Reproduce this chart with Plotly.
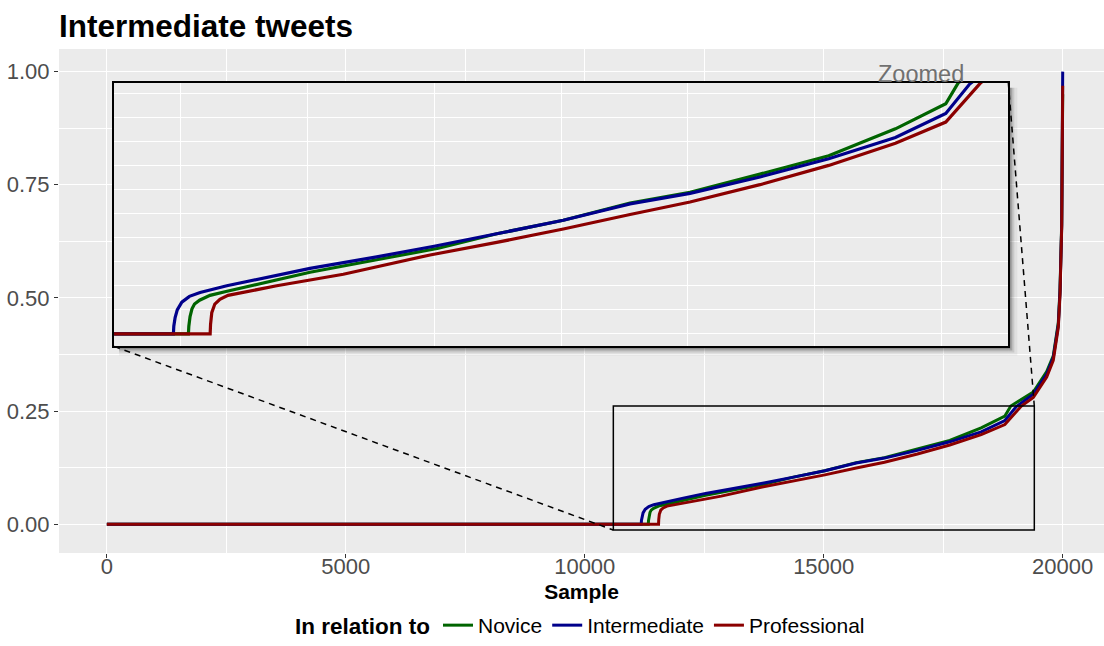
import plotly.graph_objects as go

# ---------------- data ----------------
chart_title = "Intermediate tweets"
x_title = "Sample"
legend_title = "In relation to"
zoom_label = "Zoomed"

series_names = ["Novice", "Intermediate", "Professional"]
series_colors = ["#006400", "#00008B", "#8B0000"]

novice_x = [1, 11330, 11334, 11346, 11365, 11390, 11440, 11543, 11700, 12036, 12528, 13185,
            13792, 14367, 15023, 15680, 16271, 16960, 17637, 18294, 18790, 18914, 19385,
            19665, 19803, 19908, 19944, 19979, 19995, 20000]
novice_y = [0, 0, 0.008, 0.018, 0.026, 0.031, 0.035, 0.040, 0.044, 0.052, 0.064, 0.077,
            0.089, 0.104, 0.118, 0.136, 0.147, 0.166, 0.185, 0.213, 0.239, 0.261, 0.292,
            0.337, 0.372, 0.445, 0.520, 0.665, 0.850, 0.950]

intermediate_x = [1, 11182, 11186, 11199, 11220, 11265, 11340, 11445, 11708, 12036, 12528,
                  13185, 13750, 14367, 15023, 15680, 16271, 16960, 17637, 18294, 18790,
                  19029, 19385, 19665, 19803, 19908, 19944, 19979, 19995, 20000]
intermediate_y = [0, 0, 0.008, 0.017, 0.025, 0.033, 0.039, 0.043, 0.050, 0.057, 0.068,
                  0.080, 0.091, 0.104, 0.118, 0.135, 0.146, 0.163, 0.182, 0.204, 0.229,
                  0.260, 0.287, 0.331, 0.368, 0.440, 0.515, 0.660, 0.850, 1.000]

professional_x = [1, 11544, 11548, 11560, 11590, 11640, 11720, 11871, 12200, 12856, 13710,
                  14367, 15023, 15680, 16271, 16960, 17637, 18294, 18790, 19135, 19385,
                  19665, 19803, 19908, 19944, 19979, 19995, 20000]
professional_y = [0, 0, 0.010, 0.022, 0.031, 0.036, 0.040, 0.043, 0.050, 0.062, 0.082,
                  0.095, 0.109, 0.124, 0.137, 0.155, 0.175, 0.198, 0.220, 0.261, 0.280,
                  0.325, 0.362, 0.435, 0.509, 0.656, 0.850, 0.969]

x_tick_vals = [0, 5000, 10000, 15000, 20000]
x_tick_text = ["0", "5000", "10000", "15000", "20000"]
y_tick_vals = [0, 0.25, 0.5, 0.75, 1.0]
y_tick_text = ["0.00", "0.25", "0.50", "0.75", "1.00"]

# zoom region (data coords) and where its magnified copy is placed (data coords)
zoom_from = [10598, 19406, -0.013, 0.2609]
zoom_to = [153, 18862, 0.3928, 0.9755]
main_x_range = [-1000, 20864]
main_y_range = [-0.0637, 1.05]

# ---------------- layout constants ----------------
W, H = 1104, 646
ML, MR, MT, MB = 59, 0, 49, 93
FONT = "Liberation Sans, Arial, sans-serif"
PANEL = "#EBEBEB"
TICK_COLOR = "#4D4D4D"

plot_w = W - ML - MR
plot_h = H - MT - MB
px_per_x = plot_w / (main_x_range[1] - main_x_range[0])
px_per_y = plot_h / (main_y_range[1] - main_y_range[0])

dom_x = [(zoom_to[0] - main_x_range[0]) / (main_x_range[1] - main_x_range[0]),
         (zoom_to[1] - main_x_range[0]) / (main_x_range[1] - main_x_range[0])]
dom_y = [(zoom_to[2] - main_y_range[0]) / (main_y_range[1] - main_y_range[0]),
         (zoom_to[3] - main_y_range[0]) / (main_y_range[1] - main_y_range[0])]
inset_w_px = (zoom_to[1] - zoom_to[0]) * px_per_x
inset_h_px = (zoom_to[3] - zoom_to[2]) * px_per_y

series = [(novice_x, novice_y), (intermediate_x, intermediate_y),
          (professional_x, professional_y)]

fig = go.Figure()
for (xs, ys), name, col in zip(series, series_names, series_colors):
    fig.add_trace(go.Scatter(x=xs, y=ys, mode="lines", name=name,
                             line=dict(color=col, width=3),
                             xaxis="x", yaxis="y", hoverinfo="skip"))
for (xs, ys), name, col in zip(series, series_names, series_colors):
    fig.add_trace(go.Scatter(x=xs, y=ys, mode="lines", name=name, showlegend=False,
                             line=dict(color=col, width=3.2),
                             xaxis="x2", yaxis="y2", hoverinfo="skip"))

shapes = []
# zoom box on the main panel
shapes.append(dict(type="rect", xref="x", yref="y",
                   x0=zoom_from[0], x1=zoom_from[1], y0=zoom_from[2], y1=zoom_from[3],
                   line=dict(color="black", width=1.5), layer="above"))
# dashed connectors
shapes.append(dict(type="line", xref="x", yref="y",
                   x0=zoom_to[0], y0=zoom_to[2], x1=zoom_from[0], y1=zoom_from[2],
                   line=dict(color="black", width=1.5, dash="6px,5px"), layer="above"))
shapes.append(dict(type="line", xref="x", yref="y",
                   x0=zoom_to[1], y0=zoom_to[3], x1=zoom_from[1], y1=zoom_from[3],
                   line=dict(color="black", width=1.5, dash="6px,5px"), layer="above"))
# drop shadow of the inset (right and bottom strips)
for w, op in [(2, 0.30), (4, 0.18), (6, 0.10), (9, 0.05)]:
    shapes.append(dict(type="rect", xref="x", yref="y",
                       xsizemode="pixel", xanchor=zoom_to[1], x0=0, x1=w,
                       ysizemode="pixel", yanchor=zoom_to[2], y0=-w, y1=inset_h_px - 5,
                       fillcolor=f"rgba(0,0,0,{op})", line=dict(width=0), layer="above"))
    shapes.append(dict(type="rect", xref="x", yref="y",
                       xsizemode="pixel", xanchor=zoom_to[1], x0=-inset_w_px + 5, x1=0,
                       ysizemode="pixel", yanchor=zoom_to[2], y0=-w, y1=0,
                       fillcolor=f"rgba(0,0,0,{op})", line=dict(width=0), layer="above"))

annotations = [dict(text=zoom_label, xref="x", yref="y",
                    x=(zoom_to[0] + zoom_to[1]) / 2 + 7520, y=zoom_to[3],
                    xanchor="center", yanchor="bottom", yshift=-6, showarrow=False,
                    font=dict(family=FONT, size=23.5, color="#707070"))]

fig.update_layout(
    width=W, height=H,
    margin=dict(l=ML, r=MR, t=MT, b=MB, autoexpand=False),
    paper_bgcolor="white", plot_bgcolor=PANEL,
    font=dict(family=FONT, color="black"),
    title=dict(text=f"<b>{chart_title}</b>", xref="container", yref="container",
               x=59 / W, xanchor="left", y=1 - 26 / H, yanchor="middle",
               font=dict(family=FONT, size=31.5, color="black")),
    xaxis=dict(range=main_x_range, tickvals=x_tick_vals, ticktext=x_tick_text,
               automargin=False,
               showgrid=True, gridcolor="white", gridwidth=1.1, zeroline=False,
               minor=dict(dtick=2500, tick0=0, showgrid=True, gridcolor="white", gridwidth=0.5),
               ticks="outside", ticklen=4, tickcolor="#333333", tickwidth=1,
               ticklabelstandoff=-10,
               tickfont=dict(family=FONT, size=22, color=TICK_COLOR),
               title=dict(text=f"<b>{x_title}</b>", standoff=5,
                          font=dict(family=FONT, size=21, color="black")),
               showline=False, domain=[0, 1], anchor="y"),
    yaxis=dict(range=main_y_range, tickvals=y_tick_vals, ticktext=y_tick_text,
               automargin=False,
               showgrid=True, gridcolor="white", gridwidth=1.1, zeroline=False,
               minor=dict(dtick=0.125, tick0=0, showgrid=True, gridcolor="white", gridwidth=0.5),
               ticks="outside", ticklen=4, tickcolor="#333333", tickwidth=1,
               tickfont=dict(family=FONT, size=22, color=TICK_COLOR),
               showline=False, domain=[0, 1], anchor="x"),
    xaxis2=dict(range=[zoom_from[0], zoom_from[1]], domain=dom_x, anchor="y2",
                automargin=False,
                dtick=2500, tick0=0, showticklabels=False, ticks="",
                showgrid=True, gridcolor="white", gridwidth=1.1, zeroline=False,
                minor=dict(dtick=1250, tick0=0, showgrid=True, gridcolor="white", gridwidth=0.5),
                showline=True, mirror=True, linecolor="black", linewidth=1.5),
    yaxis2=dict(range=[zoom_from[2], zoom_from[3]], domain=dom_y, anchor="x2",
                automargin=False,
                dtick=0.05, tick0=0, showticklabels=False, ticks="",
                showgrid=True, gridcolor="white", gridwidth=1.1, zeroline=False,
                minor=dict(dtick=0.025, tick0=0, showgrid=True, gridcolor="white", gridwidth=0.5),
                showline=True, mirror=True, linecolor="black", linewidth=1.5),
    legend=dict(orientation="h", x=0.5, xanchor="center",
                yref="container", y=-0.012, yanchor="bottom",
                title=dict(text=f"<b>{legend_title}</b>", side="left",
                           font=dict(family=FONT, size=22.5, color="black")),
                font=dict(family=FONT, size=21, color="black"),
                itemwidth=30, bgcolor="rgba(0,0,0,0)", traceorder="normal"),
    shapes=shapes,
    annotations=annotations,
    hovermode=False,
    showlegend=True,
)

fig.write_html("out.html", config={"displayModeBar": False})
